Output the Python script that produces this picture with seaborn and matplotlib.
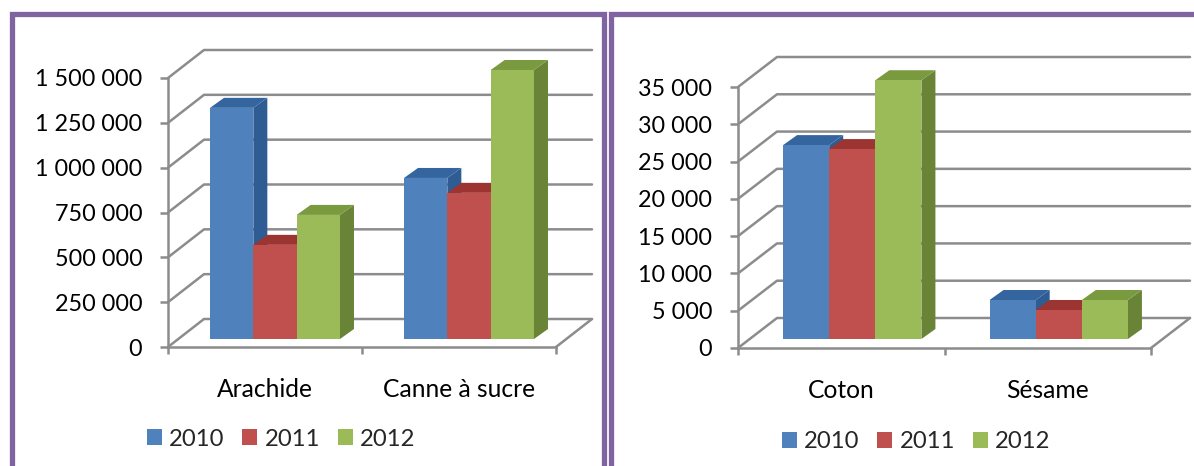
import matplotlib
matplotlib.use("Agg")
import matplotlib.pyplot as plt
from matplotlib.patches import Polygon, Rectangle
import pandas as pd
import seaborn as sns

W, H = 1194, 466

years = ["2010", "2011", "2012"]
colors_front = ["#4F81BD", "#C0504D", "#9BBB59"]
colors_side = ["#2F5C92", "#8E2F2C", "#6A8437"]
colors_top = ["#34659F", "#9C3431", "#7A9A3F"]

left_crops = ["Arachide", "Canne à sucre"]
left_2010 = [1289000, 898000]
left_2011 = [525000, 815000]
left_2012 = [692000, 1500000]
left_ticks = [0, 250000, 500000, 750000, 1000000, 1250000, 1500000]
left_tick_labels = ["0", "250 000", "500 000", "750 000", "1 000 000", "1 250 000", "1 500 000"]

right_crops = ["Coton", "Sésame"]
right_2010 = [26000, 5230]
right_2011 = [25470, 3890]
right_2012 = [34700, 5230]
right_ticks = [0, 5000, 10000, 15000, 20000, 25000, 30000, 35000]
right_tick_labels = ["0", "5 000", "10 000", "15 000", "20 000", "25 000", "30 000", "35 000"]

GRAY = "#8C8C8C"
PURPLE = "#8064A2"
FS = 16.8
FS_CAT = 17.7

sns.set_theme(style="white")
plt.rcParams["font.family"] = ["Lato", "DejaVu Sans"]


def draw_panel(fig, box, crops, series, ticks, tick_labels, wall, bar_front, bar_depth, legend_xy):
    x0, x1, y_bottom, y_top = box
    ax = fig.add_axes([x0 / W, 1 - y_bottom / H, (x1 - x0) / W, (y_bottom - y_top) / H])
    ax.patch.set_alpha(0)

    df = pd.DataFrame({
        "crop": [c for c in crops for _ in years],
        "year": years * len(crops),
        "value": [s[i] for i in range(len(crops)) for s in series],
    })
    sns.barplot(data=df, x="crop", y="value", hue="year", palette=colors_front, saturation=1,
                width=0.67, gap=0, linewidth=0, ax=ax)

    ax.set_xlim(-0.5, len(crops) - 0.5)
    ax.set_ylim(0, ticks[-1])
    # pixel -> data units, depth offsets are measured in pixels
    ux = len(crops) / (x1 - x0)
    uy = ticks[-1] / (y_bottom - y_top)

    # back wall and floor
    xl, xr = -0.5, len(crops) - 0.5
    wx, wy = wall[0] * ux, wall[1] * uy
    for t in ticks:
        ax.plot([xl, xl + wx, xr + wx], [t, t + wy, t + wy], color=GRAY, lw=1.8, zorder=1, clip_on=False)
    ax.plot([xr, xr + wx], [0, wy], color=GRAY, lw=1.8, zorder=1, clip_on=False)

    # 3D faces, painted left to right
    bars = sorted(ax.patches, key=lambda b: b.get_x())
    fx, fy = bar_front[0] * ux, bar_front[1] * uy
    dx, dy = bar_depth[0] * ux, bar_depth[1] * uy
    for i, bar in enumerate(bars):
        k = i % 3
        z = 3 + i
        a = bar.get_x() + fx
        b = a + bar.get_width()
        top = bar.get_height() + fy
        bar.set_x(a)
        bar.set_y(fy)
        bar.set_zorder(z + 0.2)
        bar.set_clip_on(False)
        ax.add_patch(Polygon([(b, fy), (b + dx, fy + dy), (b + dx, top + dy), (b, top)],
                             facecolor=colors_side[k], lw=0, zorder=z, clip_on=False))
        ax.add_patch(Polygon([(a, top), (b, top), (b + dx, top + dy), (a + dx, top + dy)],
                             facecolor=colors_top[k], lw=0, zorder=z + 0.1, clip_on=False))

    sns.despine(ax=ax)
    for side in ["left", "bottom"]:
        ax.spines[side].set_color(GRAY)
        ax.spines[side].set_linewidth(1.8)

    ax.set_xlabel("")
    ax.set_ylabel("")
    ax.set_yticks(ticks, tick_labels)
    ax.set_xticks([i - 0.5 for i in range(len(crops) + 1)], [""] * (len(crops) + 1))
    ax.set_xticks(range(len(crops)), crops, minor=True)
    ax.tick_params(axis="y", length=5.5, width=1.8, color=GRAY, pad=13, labelsize=FS, labelcolor="black", left=True)
    ax.tick_params(axis="x", which="major", length=5, width=1.8, color=GRAY, bottom=True)
    ax.tick_params(axis="x", which="minor", length=0, pad=22.5, labelsize=FS_CAT, labelcolor="black")

    sns.move_legend(ax, "center left", bbox_to_anchor=(legend_xy[0] / W, 1 - legend_xy[1] / H),
                    bbox_transform=fig.transFigure, ncol=3, title=None, frameon=False, fontsize=FS + 0.4,
                    borderpad=0, borderaxespad=0, handlelength=0.63, handleheight=0.63,
                    handletextpad=0.3, columnspacing=0.74)
    return ax


fig = plt.figure(figsize=(W / 100, H / 100), dpi=100, facecolor="white")

for fx0, fx1 in [(11.5, 603.5), (611, 1260)]:
    fig.add_artist(Rectangle((fx0 / W, -0.1), (fx1 - fx0) / W, 1.1 - 13.5 / H, transform=fig.transFigure,
                             facecolor="none", edgecolor=PURPLE, linewidth=3.8))

draw_panel(fig, (168, 556, 347, 78), left_crops, [left_2010, left_2011, left_2012],
           left_ticks, left_tick_labels, (36, 28), (10, 8), (14, 10), (147, 439))
draw_panel(fig, (738, 1151, 348, 87), right_crops, [right_2010, right_2011, right_2012],
           right_ticks, right_tick_labels, (39, 30), (11, 9), (14, 10), (782, 442))

fig.savefig("out.png", dpi=100)
